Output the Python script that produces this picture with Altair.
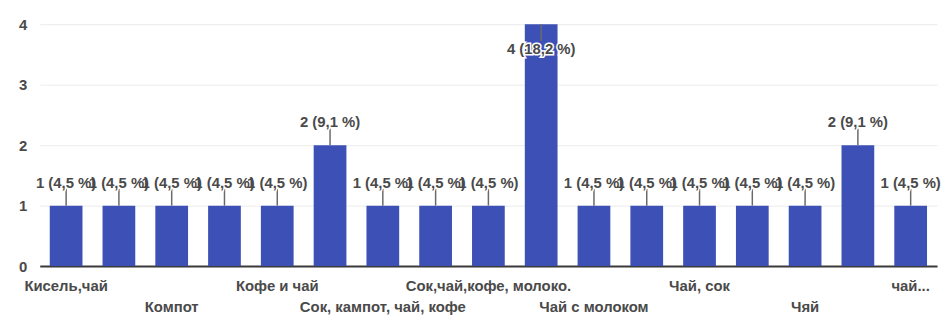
import altair as alt
import pandas as pd

categories = [
    "Кисель,чай", "Кока-кола", "Компот", "Кофе", "Кофе и чай", "Молоко",
    "Сок, кампот, чай, кофе", "Сок, чай", "Сок,чай,кофе, молоко.", "Чай",
    "Чай с молоком", "Чай, кофе", "Чай, сок", "Чай, сок, вода", "Чяй",
    "чай", "чай...",
]
counts = [1, 1, 1, 1, 1, 2, 1, 1, 1, 4, 1, 1, 1, 1, 1, 2, 1]
total = 22

# axis labels that are visible, and the row they sit in (1 = upper, 2 = lower)
shown_labels = {
    "Кисель,чай": 1, "Компот": 2, "Кофе и чай": 1, "Сок, кампот, чай, кофе": 2,
    "Сок,чай,кофе, молоко.": 1, "Чай с молоком": 2, "Чай, сок": 1, "Чяй": 2,
    "чай...": 1,
}

def fmt(v):
    pct = v / total * 100
    return f"{v} ({pct:.1f} %)".replace(".", ",")

df = pd.DataFrame({
    "cat": categories,
    "n": counts,
    "label": [fmt(v) for v in counts],
})

expr = "''"
for name, row in reversed(list(shown_labels.items())):
    val = f"'{name}'" if row == 1 else f"['', '{name}']"
    expr = f"datum.value == '{name}' ? {val} : ({expr})"

FONT = "Liberation Sans"
GRAY = "#4a4a4a"
BLUE = "#3d50b6"
MAXV = max(counts)

x = alt.X(
    "cat:N", sort=None, title=None,
    scale=alt.Scale(paddingInner=0.38, paddingOuter=0.19),
    axis=alt.Axis(
        labelExpr=expr, labelAngle=0, labelOverlap=False, labelLimit=400,
        labelFont=FONT, labelFontSize=15, labelFontWeight="bold",
        labelColor=GRAY, labelPadding=13, labelLineHeight=21, ticks=False,
        domainColor="#3a3a3a", domainWidth=2, labelBound=False,
    ),
)
y = alt.Y(
    "n:Q", title=None,
    scale=alt.Scale(domain=[0, 4], nice=False),
    axis=alt.Axis(
        values=[0, 1, 2, 3, 4], format="d", labelFont=FONT, labelFontSize=15,
        labelFontWeight="bold", labelColor=GRAY, ticks=False, labelPadding=13,
        domain=False, gridColor="#ececec", gridWidth=1,
    ),
)

base = alt.Chart(df)
bars = base.mark_bar(color=BLUE).encode(x=x, y=y)

low = base.transform_filter(f"datum.n < {MAXV}")
high = base.transform_filter(f"datum.n >= {MAXV}")

rule_low = low.mark_rule(color="#6a6a6a", strokeWidth=1.5, y2Offset=-17).encode(
    x="cat:N", y="n:Q", y2="n:Q")
rule_high = high.mark_rule(color="#6a6a6a", strokeWidth=1.5, y2Offset=17).encode(
    x="cat:N", y="n:Q", y2="n:Q")

tkw = dict(font=FONT, fontSize=15, fontWeight="bold", baseline="middle", align="center")
halo_low = low.mark_text(color="white", stroke="white", strokeWidth=3, dy=-23, **tkw).encode(
    x="cat:N", y="n:Q", text="label:N")
text_low = low.mark_text(color=GRAY, dy=-23, **tkw).encode(x="cat:N", y="n:Q", text="label:N")
halo_high = high.mark_text(color="white", stroke="white", strokeWidth=3, dy=25, **tkw).encode(
    x="cat:N", y="n:Q", text="label:N")
text_high = high.mark_text(color=GRAY, dy=25, **tkw).encode(x="cat:N", y="n:Q", text="label:N")

chart = alt.layer(
    bars, rule_low, rule_high, halo_low, text_low, halo_high, text_high
).properties(
    width=905, height=244,
    autosize=alt.AutoSizeParams(type="none"),
    padding={"left": 32, "top": 15, "right": 7, "bottom": 51},
).configure_view(stroke=None)

chart.save("out.html", embed_options={"renderer": "svg", "actions": False})
